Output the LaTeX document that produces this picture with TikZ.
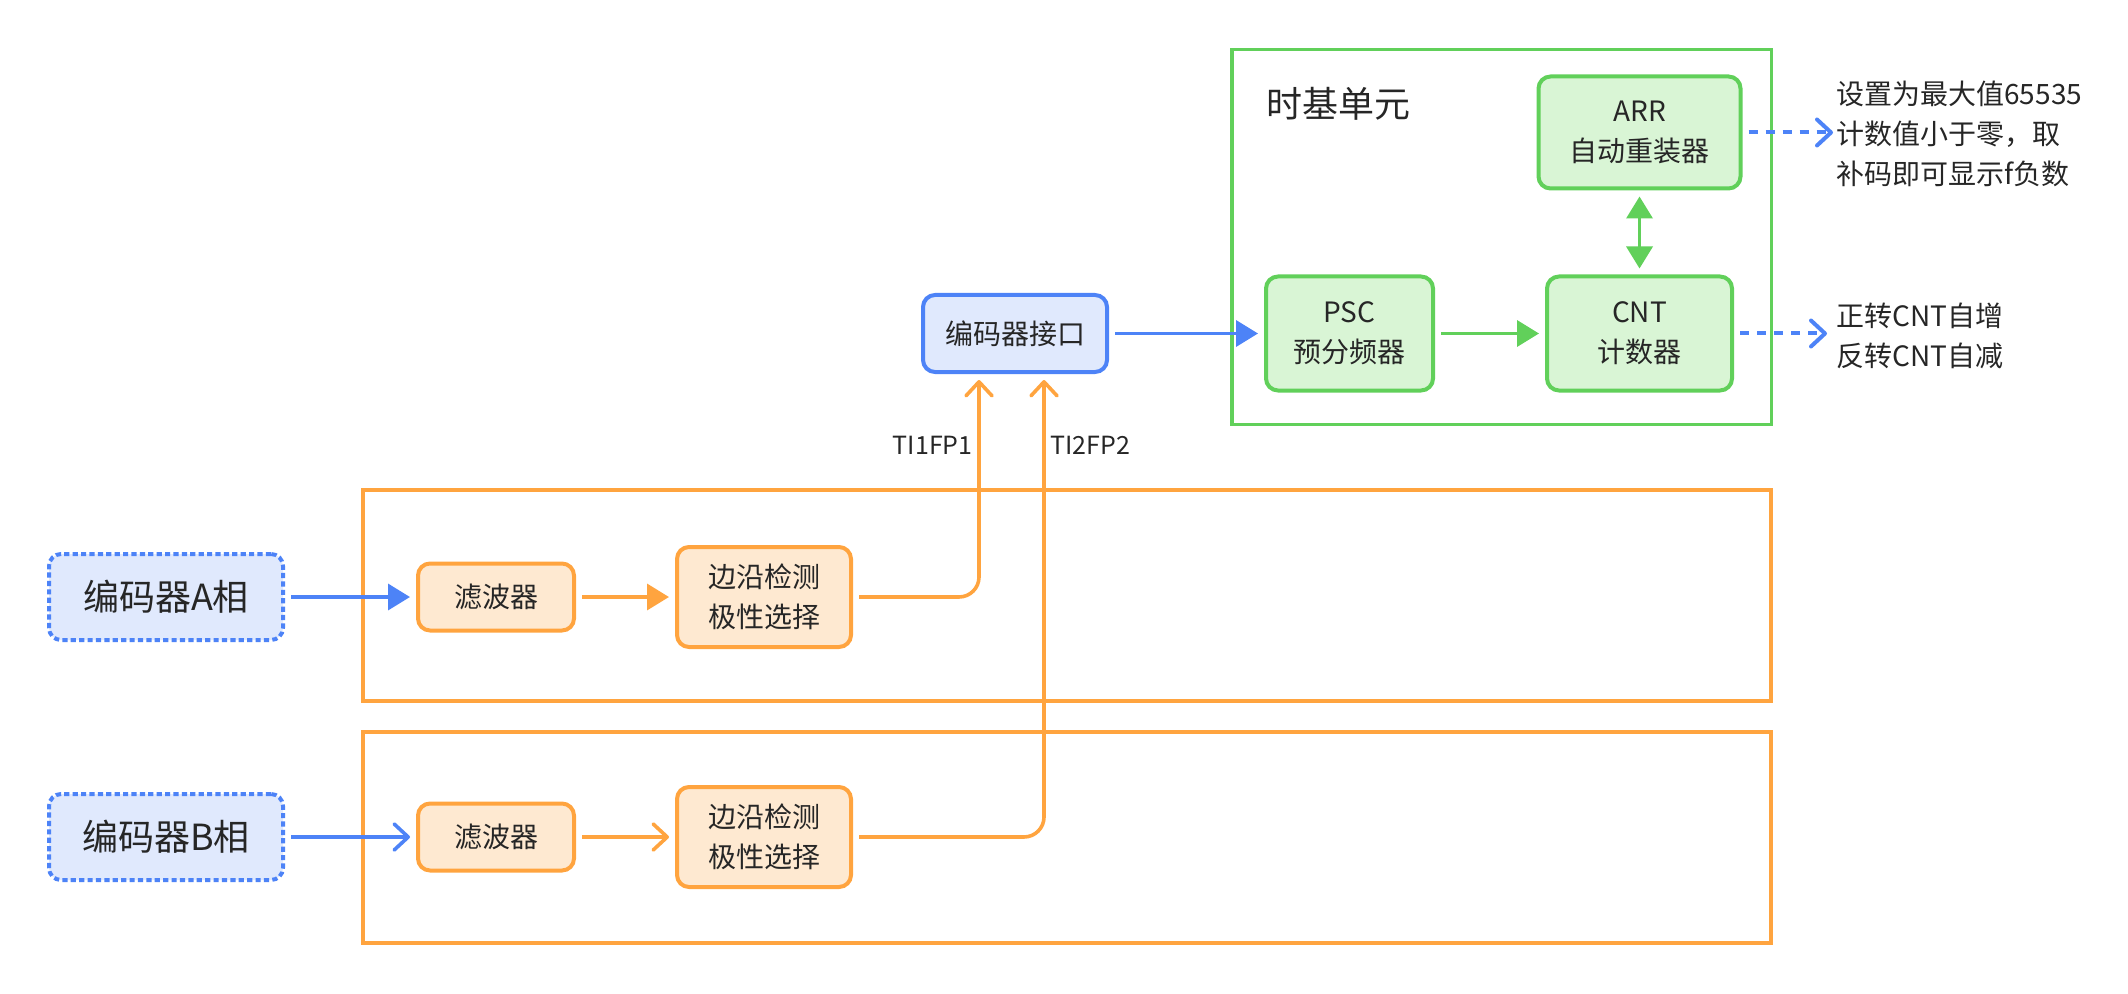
\documentclass[tikz,border=0pt]{standalone}
\usepackage{fontspec}
\setmainfont{Noto Sans CJK SC}
\usetikzlibrary{arrows.meta,positioning}
\definecolor{bline}{HTML}{4D83F7}
\definecolor{bfill}{HTML}{E0E9FD}
\definecolor{gline}{HTML}{61D05A}
\definecolor{gfill}{HTML}{D9F5D5}
\definecolor{oline}{HTML}{FFA43F}
\definecolor{ofill}{HTML}{FEE9D1}
\definecolor{txt}{HTML}{262626}

\begin{document}
\begin{tikzpicture}[x=0.5pt, y=-0.5pt, font=\fontsize{14pt}{20pt}\selectfont, text=txt,
  >={Triangle[length=11pt,width=13pt]},
  box/.style={rounded corners=6pt, line width=2pt, align=center, inner sep=0pt, outer sep=0pt},
  bbox/.style={box, draw=bline, fill=bfill},
  gbox/.style={box, draw=gline, fill=gfill},
  obox/.style={box, draw=oline, fill=ofill},
  src/.style={bbox, dash pattern=on 2.6pt off 1.6pt, minimum width=117pt, minimum height=43pt, font=\fontsize{18pt}{22pt}\selectfont},
  filt/.style={obox, minimum width=78pt, minimum height=33.5pt},
  det/.style={obox, minimum width=87pt, minimum height=50pt},
  note/.style={align=left, inner sep=0pt},
  tilab/.style={inner sep=0pt, font=\fontsize{12.5pt}{15pt}\selectfont},
  frame/.style={line width=1.7pt},
  arrow/.style={->, line width=1.8pt, shorten <=4pt, shorten >=4pt},
  barb/.style={-{Straight Barb[length=7pt,width=13pt,round]}, line width=1.8pt, shorten <=4pt, shorten >=4pt},
  dots/.style={barb, bline, line width=2pt, dash pattern=on 4.5pt off 4pt}]
  \useasboundingbox (0,0) rectangle (2128,994);
  \draw[frame, oline] (363,490) rectangle (1771,701);
  \draw[frame, oline] (363,732) rectangle (1771,943);
  \node[src] (encA) at (166,597) {编码器A相};
  \node[filt, right=67.5pt of encA] (filtA) {滤波器};
  \node[det, right=51.5pt of filtA] (detA) {边沿检测\\极性选择};
  \node[src, below=77pt of encA] (encB) {编码器B相};
  \node[filt, right=67.5pt of encB] (filtB) {滤波器};
  \node[det, right=51.5pt of filtB] (detB) {边沿检测\\极性选择};
  \node[bbox, minimum width=92pt, minimum height=38.5pt] (iface) at (1015,333.5) {编码器接口};
  \node[gbox, minimum width=83.5pt, minimum height=57pt, right=79.5pt of iface] (psc) {PSC\\预分频器};
  \node[gbox, minimum width=92.5pt, minimum height=57pt, right=57pt of psc] (cnt) {CNT\\计数器};
  \node[gbox, minimum width=101pt, minimum height=56pt, above=44pt of cnt] (reload) {ARR\\自动重装器};
  \draw[frame, gline] ([xshift=-17pt,yshift=-17pt]psc.south west) rectangle ([xshift=15.5pt,yshift=13.5pt]reload.north east);
  \node[anchor=west, inner sep=0pt, font=\fontsize{18pt}{22pt}\selectfont] (tbname) at (1266,104) {时基单元};
  \node[note, anchor=west] (arrnote) at (1836,134) {设置为最大值65535\\计数值小于零，取\\补码即可显示f负数};
  \node[note, anchor=west] (cntnote) at (1836,336) {正转CNT自增\\反转CNT自减};
  \node[tilab, anchor=east] (ti1) at (973,445) {TI1FP1};
  \node[tilab, anchor=west] (ti2) at (1050,445) {TI2FP2};
  \draw[arrow, bline] (encA) -- (filtA);
  \draw[arrow, oline] (filtA) -- (detA);
  \draw[barb, bline] (encB) -- (filtB);
  \draw[barb, oline] (filtB) -- (detB);
  \draw[barb, oline, rounded corners=10pt] (detA) -| ([xshift=-18pt]iface.south);
  \draw[barb, oline, rounded corners=10pt] (detB) -| ([xshift=14.5pt]iface.south);
  \draw[arrow, bline] (iface) -- (psc);
  \draw[arrow, gline] (psc) -- (cnt);
  \draw[arrow, gline, <->] (reload) -- (cnt);
  \draw[dots, shorten >=1.5pt] (reload) -- (reload -| arrnote.west);
  \draw[dots, shorten >=4.5pt] (cnt) -- (cnt -| cntnote.west);
\end{tikzpicture}
\end{document}
